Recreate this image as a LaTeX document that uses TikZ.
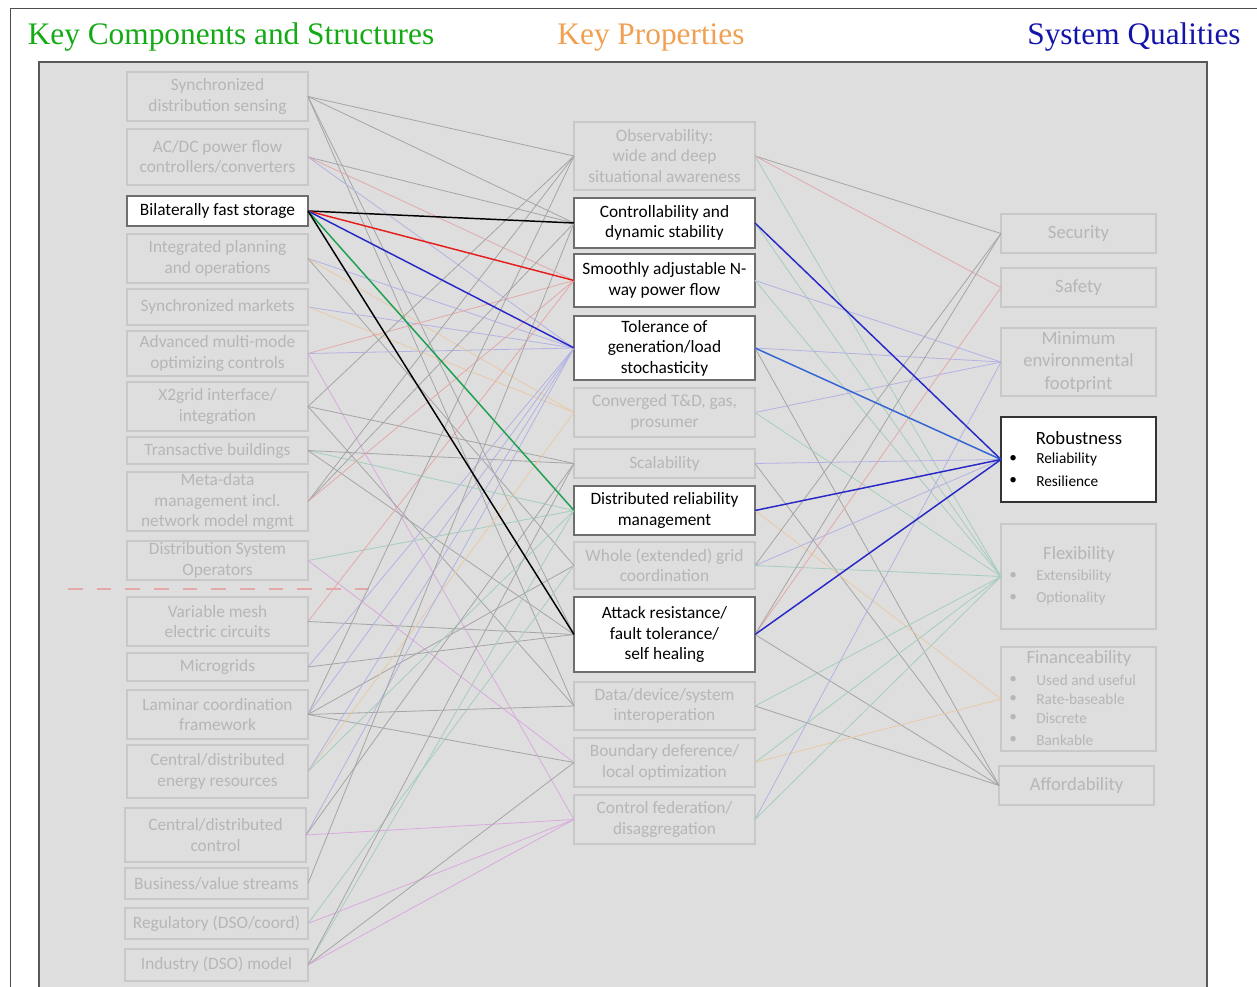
\documentclass[tikz,border=0pt]{standalone}
\usepackage{fontspec}
\setmainfont{Carlito}
\newfontfamily\hdrfont{Liberation Serif}
\definecolor{panelbg}{RGB}{222,222,222}
\definecolor{fborder}{RGB}{200,200,200}
\definecolor{ftext}{RGB}{182,182,182}
\definecolor{wborder}{RGB}{110,110,110}
\definecolor{cgrey}{RGB}{165,165,165}
\definecolor{cpink}{RGB}{228,168,168}
\definecolor{clav}{RGB}{178,178,228}
\definecolor{cteal}{RGB}{165,205,188}
\definecolor{cbeige}{RGB}{232,202,165}
\definecolor{cviol}{RGB}{218,168,222}
\definecolor{hgreen}{RGB}{20,170,20}
\definecolor{horange}{RGB}{240,160,80}
\definecolor{hblue}{RGB}{20,20,170}
\definecolor{sred}{RGB}{230,30,30}
\definecolor{sblue}{RGB}{40,40,200}
\definecolor{sgreen}{RGB}{30,160,80}
\definecolor{smblue}{RGB}{50,100,210}
\tikzset{
  bx/.style 2 args={minimum width=#1*0.75pt, minimum height=#2*0.75pt, inner sep=0pt, outer sep=0pt},
  fbox/.style={draw=fborder, line width=0.8pt, text=ftext, align=center, font=\fontsize{13}{15.3}\selectfont},
  wbox/.style={draw=wborder, fill=white, line width=0.9pt, text=black, align=center, font=\fontsize{13}{15.3}\selectfont},
  rbox/.style={draw=fborder, line width=0.8pt, text=ftext, align=center, font=\fontsize{14}{17}\selectfont},
  rwbox/.style={draw=black!80, fill=white, line width=0.9pt, text=black, align=center, font=\fontsize{14}{17}\selectfont},
  hdr/.style={font=\hdrfont\fontsize{23.5}{26}\selectfont, inner sep=0pt},
  btxt/.style={anchor=west, inner sep=0pt, font=\fontsize{11.5}{13}\selectfont},
  eg/.style={draw=cgrey, line width=0.6pt},
  ep/.style={draw=cpink, line width=0.6pt},
  el/.style={draw=clav, line width=0.6pt},
  et/.style={draw=cteal, line width=0.6pt},
  eb/.style={draw=cbeige, line width=0.6pt},
  ev/.style={draw=cviol, line width=0.6pt},
  hl/.style={line width=1.1pt},
}
\begin{document}
\begin{tikzpicture}[x=0.75pt,y=-0.75pt]
\useasboundingbox (0,0) rectangle (1257,987);
% outer frame
\draw[black!70, line width=0.6pt] (1257,8) -- (10,8) -- (10,987);
% panel
\fill[panelbg] (39,62) rectangle (1207,992);
\draw[black!65, line width=1.1pt] (39,992) -- (39,62) -- (1207,62) -- (1207,992);
% headers
\node[hdr, text=hgreen] (h1) at (231,37.5) {Key Components and Structures};
\node[hdr, text=horange] (h2) at (651,37.5) {Key Properties};
\node[hdr, text=hblue] (h3) at (1134,37.5) {System Qualities};
% dashed separator
\draw[cpink, line width=0.9pt, dash pattern=on 11pt off 10.5pt] (68,589) -- (370,589);
% left column
\node[fbox, bx={181}{49}] (L1) at (217.5,96.5) {Synchronized\\distribution sensing};
\node[fbox, bx={181}{56}] (L2) at (217.5,157) {AC/DC power flow\\controllers/converters};
\node[wbox, bx={181}{30}] (L3) at (217.5,211) {Bilaterally fast storage};
\node[fbox, bx={181}{49}] (L4) at (217.5,258.5) {Integrated planning\\and operations};
\node[fbox, bx={181}{36}] (L5) at (217.5,307) {Synchronized markets};
\node[fbox, bx={181}{45}] (L6) at (217.5,353.5) {Advanced multi-mode\\optimizing controls};
\node[fbox, bx={181}{49}] (L7) at (217.5,406.5) {X2grid interface/\\integration};
\node[fbox, bx={181}{27}] (L8) at (217.5,450.5) {Transactive buildings};
\node[fbox, bx={181}{59}] (L9) at (217.5,501.5) {Meta-data\\management incl.\\network model mgmt};
\node[fbox, bx={181}{39}] (L10) at (217.5,560.5) {Distribution System\\Operators};
\node[fbox, bx={181}{49}] (L11) at (217.5,621.5) {Variable mesh\\electric circuits};
\node[fbox, bx={181}{28}] (L12) at (217.5,667) {Microgrids};
\node[fbox, bx={181}{49}] (L13) at (217.5,714.5) {Laminar coordination\\framework};
\node[fbox, bx={181}{53}] (L14) at (217.5,771.5) {Central/distributed\\energy resources};
\node[fbox, bx={181}{54}] (L15) at (215.5,835) {Central/distributed\\control};
\node[fbox, bx={183}{31}] (L16) at (216.5,883.5) {Business/value streams};
\node[fbox, bx={183}{31}] (L17) at (216.5,923.5) {Regulatory (DSO/coord)};
\node[fbox, bx={183}{32}] (L18) at (216.5,965) {Industry (DSO) model};
% middle column
\node[fbox, bx={181}{68}] (M1) at (664.5,156) {Observability:\\wide and deep\\situational awareness};
\node[wbox, bx={181}{50}] (M2) at (664.5,223) {Controllability and\\dynamic stability};
\node[wbox, bx={181}{53}] (M3) at (664.5,280.5) {Smoothly adjustable N-\\way power flow};
\node[wbox, bx={181}{64}] (M4) at (664.5,348) {Tolerance of\\generation/load\\stochasticity};
\node[fbox, bx={181}{49}] (M5) at (664.5,412.5) {Converged T\&D, gas,\\prosumer};
\node[fbox, bx={181}{29}] (M6) at (664.5,463.5) {Scalability};
\node[wbox, bx={181}{49}] (M7) at (664.5,510.5) {Distributed reliability\\management};
\node[fbox, bx={181}{47}] (M8) at (664.5,565.5) {Whole (extended) grid\\coordination};
\node[wbox, bx={181}{75}] (M9) at (664.5,634.5) {Attack resistance/\\fault tolerance/\\self healing};
\node[fbox, bx={181}{48}] (M10) at (664.5,706) {Data/device/system\\interoperation};
\node[fbox, bx={181}{49}] (M11) at (664.5,762.5) {Boundary deference/\\local optimization};
\node[fbox, bx={181}{49}] (M12) at (664.5,819.5) {Control federation/\\disaggregation};
% right column
\node[rbox, bx={155}{39}] (R1) at (1078.5,233.5) {Security};
\node[rbox, bx={155}{39}] (R2) at (1078.5,287.5) {Safety};
\node[rbox, bx={155}{68}] (R3) at (1078.5,362) {Minimum\\environmental\\footprint};
\node[rwbox, bx={155}{85}] (R4) at (1078.5,459.5) {};
\node[rbox, bx={155}{105}] (R5) at (1078.5,576.5) {};
\node[rbox, bx={155}{104}] (R6) at (1078.5,699) {};
\node[rbox, bx={155}{39}] (R7) at (1076.5,785.5) {Affordability};
% right box contents
\node[inner sep=0pt, font=\fontsize{14}{17}\selectfont] (r4t) at (1079,438) {Robustness};
\node[btxt] (r4b1) at (1009,459) {•};
\node[btxt] (r4b2) at (1009,481) {•};
\node[btxt] (r4a) at (1036,459) {Reliability};
\node[btxt] (r4c) at (1036,481) {Resilience};
\node[inner sep=0pt, text=ftext, font=\fontsize{14}{17}\selectfont] (r5t) at (1079,555) {Flexibility};
\node[btxt, text=ftext] (r5b1) at (1009,576) {•};
\node[btxt, text=ftext] (r5b2) at (1009,598) {•};
\node[btxt, text=ftext] (r5a) at (1036,576) {Extensibility};
\node[btxt, text=ftext] (r5c) at (1036,598) {Optionality};
\node[inner sep=0pt, text=ftext, font=\fontsize{14}{17}\selectfont] (r6t) at (1079,659) {Financeability};
\node[btxt, text=ftext] (r6b1) at (1009,680) {•};
\node[btxt, text=ftext] (r6b2) at (1009,699) {•};
\node[btxt, text=ftext] (r6b3) at (1009,718) {•};
\node[btxt, text=ftext] (r6b4) at (1009,740) {•};
\node[btxt, text=ftext] (r6a) at (1036,680) {Used and useful};
\node[btxt, text=ftext] (r6c) at (1036,699) {Rate-baseable};
\node[btxt, text=ftext] (r6d) at (1036,718) {Discrete};
\node[btxt, text=ftext] (r6e) at (1036,740) {Bankable};
% faint edges left -> middle
\foreach \a/\b/\s in {L1/M1/eg, L1/M2/eg, L1/M9/eg, L1/M10/eg,
  L2/M2/eg, L2/M3/ep, L2/M4/el,
  L4/M4/el, L4/M5/eb, L4/M8/eg,
  L5/M4/el, L5/M5/eb,
  L6/M3/ep, L6/M4/el, L6/M12/ev,
  L7/M1/eg, L7/M6/eg, L7/M10/eg,
  L8/M7/et, L8/M6/eg, L8/M9/eg,
  L9/M1/eg, L9/M2/eg, L9/M3/ep,
  L10/M7/et, L10/M11/ev,
  L11/M3/ep, L11/M9/eg,
  L12/M4/el, L12/M9/eg,
  L13/M1/eg, L13/M4/el, L13/M8/eg, L13/M10/eg, L13/M11/eg,
  L14/M7/et, L14/M5/eb, L14/M4/el,
  L15/M4/el, L15/M6/eg, L15/M12/ev,
  L16/M2/eg,
  L17/M12/ev, L17/M8/et,
  L18/M7/et, L18/M6/eg, L18/M11/eg, L18/M12/ev}
  \draw[\s] (\a.east) -- (\b.west);
% faint edges middle -> right
\foreach \a/\b/\s in {M1/R1/eg, M1/R2/ep, M1/R5/et,
  M2/R5/et,
  M3/R3/el, M3/R5/et,
  M4/R3/el, M4/R7/eg,
  M5/R3/el, M5/R5/et,
  M6/R4/el, M6/R7/eg,
  M7/R6/eb,
  M8/R1/eg, M8/R4/el, M8/R5/et,
  M9/R2/ep, M9/R1/eg, M9/R7/eg,
  M10/R5/et, M10/R7/eg,
  M11/R5/et, M11/R6/eb,
  M12/R3/el, M12/R5/et}
  \draw[\s] (\a.east) -- (\b.west);
% highlighted edges
\draw[hl, black] (L3.east) -- (M2.west);
\draw[hl, sred] (L3.east) -- (M3.west);
\draw[hl, sblue] (L3.east) -- (M4.west);
\draw[hl, sgreen] (L3.east) -- (M7.west);
\draw[hl, black] (L3.east) -- (M9.west);
\draw[hl, sblue] (M2.east) -- (R4.west);
\draw[hl, smblue] (M4.east) -- (R4.west);
\draw[hl, sblue] (M7.east) -- (R4.west);
\draw[hl, sblue] (M9.east) -- (R4.west);
\end{tikzpicture}
\end{document}
